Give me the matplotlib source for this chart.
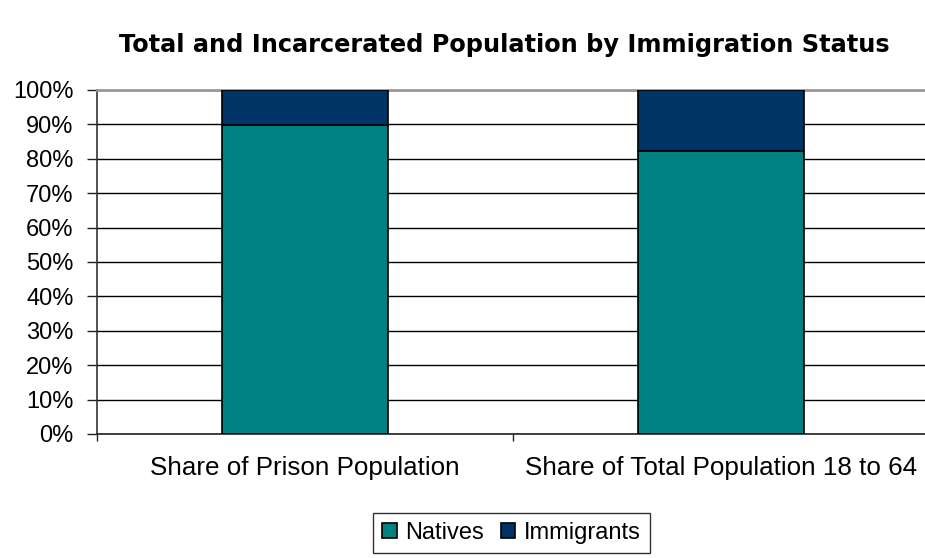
import matplotlib
matplotlib.use("Agg")
import matplotlib.pyplot as plt
from matplotlib.ticker import MultipleLocator, FixedLocator, PercentFormatter

categories = ["Share of Prison Population", "Share of Total Population 18 to 64"]
natives = [89.8, 82.4]
immigrants = [100 - v for v in natives]
series_names = ["Natives", "Immigrants"]
colors = ["#008080", "#003366"]

plt.rcParams['font.family'] = ['Liberation Sans', 'DejaVu Sans']

fig = plt.figure(figsize=(9.25, 5.58), dpi=100)
ax = fig.add_axes([97/925, 1-434/558, 832/925, 344/558])

x = list(range(len(categories)))
ax.bar(x, natives, width=0.40, color=colors[0], edgecolor="black", linewidth=1.2,
       label=series_names[0], zorder=3)
ax.bar(x, immigrants, bottom=natives, width=0.40, color=colors[1], edgecolor="black",
       linewidth=1.2, label=series_names[1], zorder=3)

ax.set_xlim(-0.5, len(categories) - 0.5)
ax.set_ylim(0, 100)
ax.yaxis.set_major_locator(MultipleLocator(10))
ax.yaxis.set_major_formatter(PercentFormatter(decimals=0))
ax.grid(axis="y", color="black", linewidth=1.0, zorder=0)
ax.set_axisbelow(True)

ax.set_xticks(x)
ax.set_xticklabels(categories, fontsize=18.7)
ax.xaxis.set_minor_locator(FixedLocator([-0.5, 0.5, 1.5]))
ax.tick_params(axis="x", which="major", length=0, pad=16)
ax.tick_params(axis="x", which="minor", length=5, width=1, color="#222222", direction="out")
ax.tick_params(axis="y", length=7, width=1, color="#222222", labelsize=17, pad=10)

ax.spines["top"].set_color("#999999")
ax.spines["top"].set_linewidth(2)
ax.spines["right"].set_visible(False)
ax.spines["left"].set_color("#333333")
ax.spines["bottom"].set_color("#222222")
ax.spines["left"].set_linewidth(1.2)
ax.spines["bottom"].set_linewidth(1.2)

fig.text(504/925, 1-45/558, "Total and Incarcerated Population by Immigration Status",
         ha="center", va="center", fontsize=17.3, fontweight="bold", family="DejaVu Sans")

leg = fig.legend(loc="center", bbox_to_anchor=(511.5/925, 1-533/558), ncol=2,
                 fontsize=17, frameon=True, fancybox=False, edgecolor="black",
                 handlelength=0.6, handleheight=0.6, handletextpad=0.35,
                 columnspacing=0.75, borderpad=0.4, borderaxespad=0)
leg.get_frame().set_linewidth(1.0)

fig.savefig("out.png", dpi=100)
